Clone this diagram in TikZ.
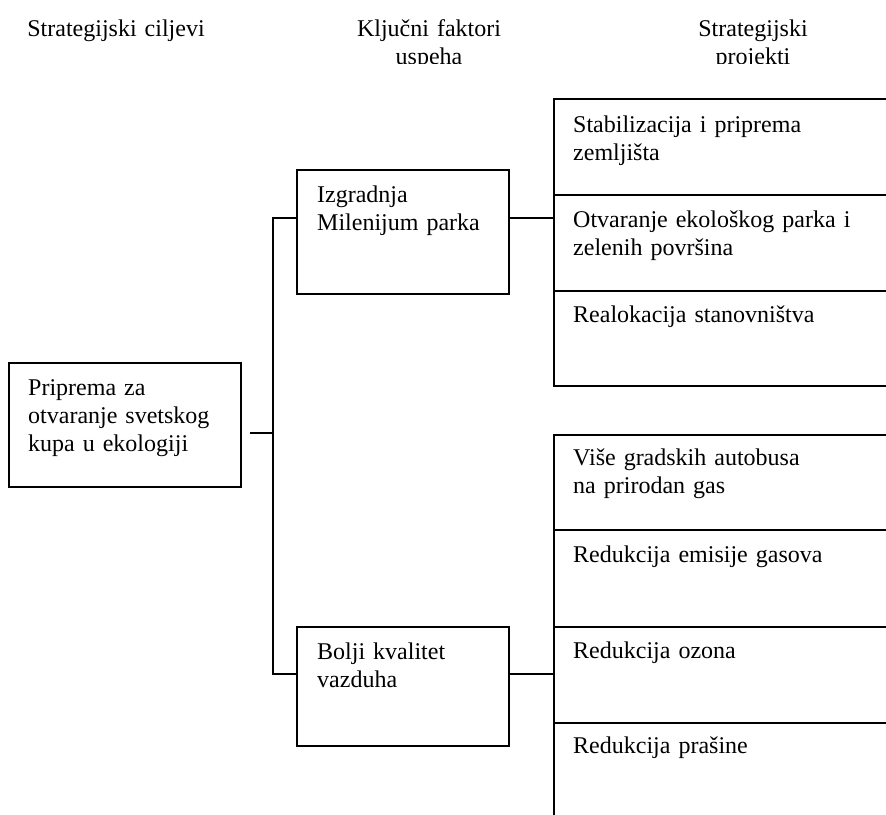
\documentclass[tikz,border=0pt]{standalone}
\usepackage{fontspec}
\setmainfont{Liberation Serif}
\usetikzlibrary{calc}
\begin{document}
\begin{tikzpicture}[x=1pt,y=-1pt,
  lw/.style={line width=1.8pt},
  boxst/.style={draw, lw, rectangle, inner sep=0pt, anchor=north west},
  txt/.style={anchor=base west, inner sep=0pt, align=left, text width=300pt,
     font=\fontsize{24}{28}\selectfont},
  hdr/.style={anchor=base, inner sep=0pt, align=center, text width=220pt,
     font=\fontsize{24}{28}\selectfont}]
\useasboundingbox (0,0) rectangle (886,814);
% headers (second lines clipped as in the reference)
\begin{scope}
\clip (0,0) rectangle (886,63);
\node[hdr] (h1) at (116,36) {Strategijski ciljevi};
\node[hdr] (h2) at (429,36) {Ključni faktori\\uspeha};
\node[hdr] (h3) at (753,36) {Strategijski\\projekti};
\end{scope}
% boxes
\node[boxst, minimum width=232pt, minimum height=124pt] (goal) at (8,362) {};
\node[boxst, minimum width=212pt, minimum height=124pt] (ksf1) at (296,169) {};
\node[boxst, minimum width=212pt, minimum height=119pt] (ksf2) at (296,626) {};
\begin{scope}
\clip (0,0) rectangle (886,814);
\node[boxst, minimum width=340pt, minimum height=96pt] (p1) at (553,98) {};
\node[boxst, minimum width=340pt, minimum height=96pt] (p2) at (553,194) {};
\node[boxst, minimum width=340pt, minimum height=95pt] (p3) at (553,290) {};
\node[boxst, minimum width=340pt, minimum height=95pt] (p4) at (553,434) {};
\node[boxst, minimum width=340pt, minimum height=97pt] (p5) at (553,529) {};
\node[boxst, minimum width=340pt, minimum height=96pt] (p6) at (553,626) {};
\node[boxst, minimum width=340pt, minimum height=100pt] (p7) at (553,722) {};
\end{scope}
% texts
\node[txt] (tg) at (28,395) {Priprema za\\otvaranje svetskog\\kupa u ekologiji};
\node[txt] (tk1) at (317,202) {Izgradnja\\Milenijum parka};
\node[txt] (tk2) at (317,659) {Bolji kvalitet\\vazduha};
\node[txt] (tp1) at (573,132) {Stabilizacija i priprema\\zemljišta};
\node[txt] (tp2) at (573,227) {Otvaranje ekološkog parka i\\zelenih površina};
\node[txt] (tp3) at (573,322) {Realokacija stanovništva};
\node[txt] (tp4) at (573,465) {Više gradskih autobusa\\na prirodan gas};
\node[txt] (tp5) at (573,562) {Redukcija emisije gasova};
\node[txt] (tp6) at (573,658) {Redukcija ozona};
\node[txt] (tp7) at (573,753) {Redukcija prašine};
% connectors
\coordinate (j0) at (273,433);
\coordinate (a1) at (273,218);
\coordinate (a2) at (273,674);
\draw[lw, shorten <=8pt] (goal.east |- j0) -- (j0);
\draw[lw] (ksf1.west |- a1) -- (a1) -- (a2) -- (ksf2.west |- a2);
\draw[lw] (ksf1.east |- a1) -- (p2.west |- a1);
\draw[lw] (ksf2.east |- a2) -- (p6.west |- a2);
\end{tikzpicture}
\end{document}
